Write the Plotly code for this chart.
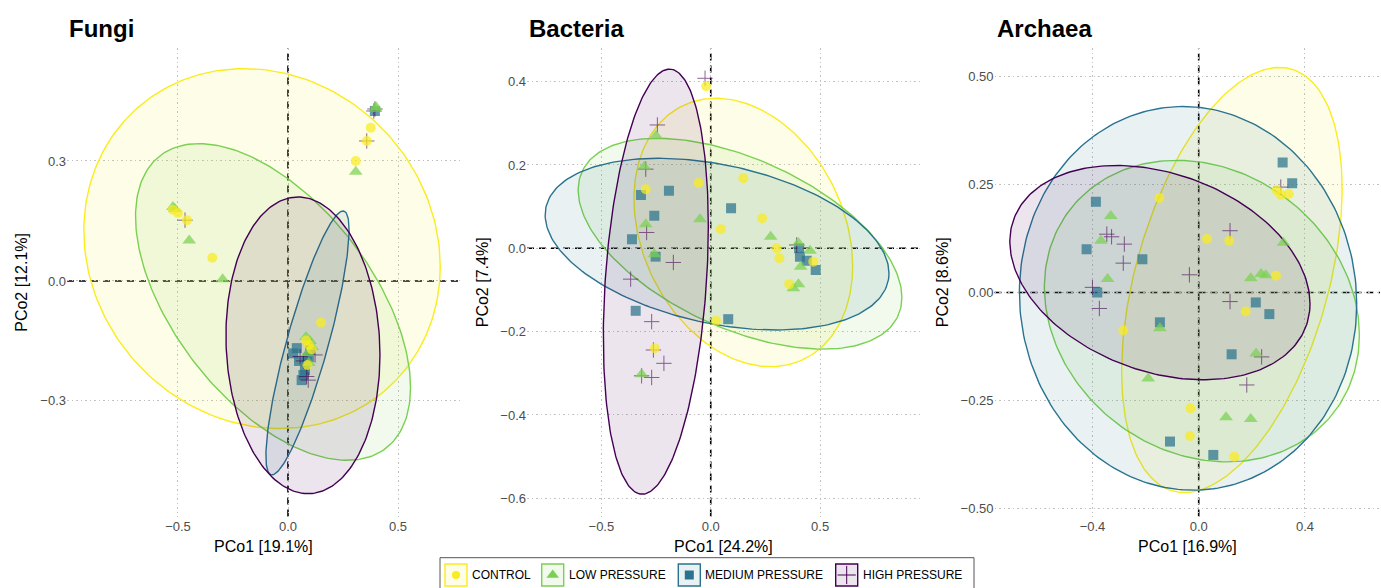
import numpy as np
import plotly.graph_objects as go

W, H = 1381, 588
FONT = "Liberation Sans, Arial, Helvetica, sans-serif"

GROUPS = ["CONTROL", "LOW PRESSURE", "MEDIUM PRESSURE", "HIGH PRESSURE"]
COLORS = ["#F9EC1F", "#7AD151", "#2A738E", "#440154"]
FILLS = ["rgba(249,236,31,0.10)", "rgba(122,209,81,0.10)", "rgba(42,115,142,0.10)", "rgba(68,1,84,0.10)"]
SYMBOLS = ["circle", "triangle-up", "square", "cross-thin"]
SIZES = [10, 12, 10, 11]

# ---------------- Fungi ----------------
F_CTRL_X = [0.376, 0.358, 0.308, -0.523, -0.500, -0.459, -0.344, 0.150, 0.082, 0.108, 0.088, 0.095]
F_CTRL_Y = [0.383, 0.350, 0.300, 0.178, 0.170, 0.152, 0.058, -0.104, -0.149, -0.171, -0.210, -0.160]
F_LOW_X = [0.400, 0.308, -0.523, -0.449, -0.297, 0.082, 0.110, 0.095, 0.100, -0.515, 0.398, 0.090]
F_LOW_Y = [0.435, 0.273, 0.185, 0.101, 0.004, -0.140, -0.165, -0.205, -0.150, 0.180, 0.430, -0.180]
F_MED_X = [0.395, 0.040, 0.024, 0.100, 0.085, 0.077, 0.062, 0.050, 0.070, 0.095]
F_MED_Y = [0.425, -0.168, -0.181, -0.173, -0.202, -0.223, -0.248, -0.200, -0.235, -0.190]
F_HIGH_X = [0.395, 0.358, -0.468, 0.055, 0.123, 0.092, 0.085, 0.070, 0.390]
F_HIGH_Y = [0.430, 0.350, 0.152, -0.189, -0.185, -0.248, -0.239, -0.200, 0.425]
# ellipse parameters (centre, spread, correlation) per group
F_ELL_CX = [-0.118, -0.068, 0.0886, 0.068]
F_ELL_CY = [0.081, -0.0525, -0.155, -0.161]
F_ELL_SX = [0.81, 0.625, 0.189, 0.35]
F_ELL_SY = [0.45, 0.396, 0.33, 0.371]
F_ELL_R = [-0.10, -0.54, 0.855, -0.065]

# ---------------- Bacteria ----------------
B_CTRL_X = [-0.021, -0.297, -0.055, 0.149, 0.235, 0.046, 0.302, 0.314, 0.469, 0.359, 0.024, -0.255]
B_CTRL_Y = [0.389, 0.142, 0.157, 0.168, 0.072, 0.046, 0.000, -0.024, -0.032, -0.086, -0.174, -0.240]
B_LOW_X = [-0.250, -0.304, -0.297, -0.049, -0.258, 0.274, 0.401, 0.454, 0.411, 0.401, 0.378, -0.316]
B_LOW_Y = [0.270, 0.196, 0.058, 0.070, -0.014, 0.028, 0.013, -0.006, -0.044, -0.086, -0.096, -0.302]
B_MED_X = [-0.319, -0.191, -0.258, -0.360, -0.252, 0.093, 0.404, 0.408, 0.439, 0.480, -0.343, 0.080]
B_MED_Y = [0.128, 0.138, 0.078, 0.022, -0.020, 0.096, 0.000, -0.020, -0.030, -0.052, -0.150, -0.170]
B_HIGH_X = [-0.026, -0.244, -0.297, -0.293, -0.171, -0.366, -0.270, -0.262, -0.214, -0.316, -0.270, 0.393]
B_HIGH_Y = [0.408, 0.296, 0.190, 0.038, -0.034, -0.074, -0.176, -0.244, -0.276, -0.306, -0.310, 0.008]
B_ELL_CX = [0.149, 0.134, 0.029, -0.251]
B_ELL_CY = [0.038, 0.011, 0.010, -0.080]
B_ELL_SX = [0.50, 0.74, 0.786, 0.24]
B_ELL_SY = [0.322, 0.253, 0.206, 0.51]
B_ELL_R = [-0.25, -0.51, -0.34, 0.26]

# ---------------- Archaea ----------------
A_CTRL_X = [-0.148, 0.294, 0.310, 0.339, 0.031, 0.115, 0.291, 0.177, -0.284, -0.031, -0.033, 0.134]
A_CTRL_Y = [0.219, 0.237, 0.226, 0.228, 0.124, 0.120, 0.039, -0.044, -0.088, -0.268, -0.332, -0.380]
A_LOW_X = [-0.331, -0.368, -0.343, 0.319, 0.196, 0.235, 0.253, -0.146, 0.216, -0.190, 0.103, 0.196]
A_LOW_Y = [0.177, 0.120, 0.031, 0.115, 0.033, 0.043, 0.040, -0.083, -0.141, -0.199, -0.289, -0.293]
A_MED_X = [0.316, 0.352, -0.387, -0.422, -0.212, -0.382, 0.215, 0.266, -0.146, 0.124, -0.108, 0.055]
A_MED_Y = [0.301, 0.253, 0.210, 0.100, 0.077, 0.000, -0.023, -0.050, -0.069, -0.143, -0.345, -0.376]
A_HIGH_X = [0.309, -0.346, -0.328, -0.280, -0.284, 0.118, -0.035, -0.400, -0.374, 0.118, 0.237, 0.181]
A_HIGH_Y = [0.244, 0.135, 0.129, 0.112, 0.068, 0.143, 0.041, 0.012, -0.037, -0.021, -0.149, -0.214]
A_ELL_CX = [0.125, 0.012, -0.040, -0.146]
A_ELL_CY = [0.029, -0.043, -0.0135, 0.046]
A_ELL_SX = [0.415, 0.593, 0.635, 0.565]
A_ELL_SY = [0.492, 0.349, 0.444, 0.248]
A_ELL_R = [0.43, -0.16, -0.03, -0.29]

PANELS = [
    dict(title="Fungi", xt="PCo1 [19.1%]", yt="PCo2 [12.1%]",
         pts=[(F_CTRL_X, F_CTRL_Y), (F_LOW_X, F_LOW_Y), (F_MED_X, F_MED_Y), (F_HIGH_X, F_HIGH_Y)],
         ell=(F_ELL_CX, F_ELL_CY, F_ELL_SX, F_ELL_SY, F_ELL_R),
         xdom=(67, 460), xr=(-1.0045, 0.7818), yr=(-0.589, 0.5825),
         xticks=[-0.5, 0.0, 0.5], xtt=["\u22120.5", "0.0", "0.5"],
         yticks=[-0.3, 0.0, 0.3], ytt=["\u22120.3", "0.0", "0.3"], ytx=21.5),
    dict(title="Bacteria", xt="PCo1 [24.2%]", yt="PCo2 [7.4%]",
         pts=[(B_CTRL_X, B_CTRL_Y), (B_LOW_X, B_LOW_Y), (B_MED_X, B_MED_Y), (B_HIGH_X, B_HIGH_Y)],
         ell=(B_ELL_CX, B_ELL_CY, B_ELL_SX, B_ELL_SY, B_ELL_R),
         xdom=(527, 920.7), xr=(-0.840, 0.960), yr=(-0.6436, 0.4807),
         xticks=[-0.5, 0.0, 0.5], xtt=["\u22120.5", "0.0", "0.5"],
         yticks=[-0.6, -0.4, -0.2, 0.0, 0.2, 0.4],
         ytt=["\u22120.6", "\u22120.4", "\u22120.2", "0.0", "0.2", "0.4"], ytx=482),
    dict(title="Archaea", xt="PCo1 [16.9%]", yt="PCo2 [8.6%]",
         pts=[(A_CTRL_X, A_CTRL_Y), (A_LOW_X, A_LOW_Y), (A_MED_X, A_MED_Y), (A_HIGH_X, A_HIGH_Y)],
         ell=(A_ELL_CX, A_ELL_CY, A_ELL_SX, A_ELL_SY, A_ELL_R),
         xdom=(994.5, 1380), xr=(-0.7688, 0.6826), yr=(-0.5185, 0.566),
         xticks=[-0.4, 0.0, 0.4], xtt=["\u22120.4", "0.0", "0.4"],
         yticks=[-0.5, -0.25, 0.0, 0.25, 0.5],
         ytt=["\u22120.50", "\u22120.25", "0.00", "0.25", "0.50"], ytx=942),
]

PLOT_TOP, PLOT_BOT = 48, 516.5


def ellipse(cx, cy, sx, sy, r, n=240):
    t = np.linspace(0, 2 * np.pi, n)
    x = cx + sx * np.cos(t)
    y = cy + sy * (r * np.cos(t) + np.sqrt(1 - r * r) * np.sin(t))
    return x, y


fig = go.Figure()
annotations = []
shapes = []

for i, p in enumerate(PANELS):
    k = "" if i == 0 else str(i + 1)
    xa, ya = "x" + k, "y" + k
    cx, cy, sx, sy, rr = p["ell"]
    for g in range(4):
        ex, ey = ellipse(cx[g], cy[g], sx[g], sy[g], rr[g])
        fig.add_trace(go.Scatter(x=ex, y=ey, mode="lines", fill="toself",
                                 fillcolor=FILLS[g], line=dict(color=COLORS[g], width=1.4),
                                 xaxis=xa, yaxis=ya, showlegend=False, hoverinfo="skip"))
    for g in [2, 3, 1, 0]:
        px_, py_ = p["pts"][g]
        mk = dict(symbol=SYMBOLS[g], size=SIZES[g], color=COLORS[g], opacity=0.72)
        if SYMBOLS[g] == "cross-thin":
            mk["line"] = dict(color=COLORS[g], width=1.0)
            mk["opacity"] = 0.6
        else:
            mk["line"] = dict(width=0)
        fig.add_trace(go.Scatter(x=px_, y=py_, mode="markers", marker=mk,
                                 xaxis=xa, yaxis=ya, showlegend=False, name=GROUPS[g]))
    axcommon = dict(showgrid=True, griddash="1.5px,3px", gridcolor="#c2c2c2", gridwidth=1.1,
                    zeroline=False, showline=False, ticks="", automargin=False,
                    tickfont=dict(family=FONT, size=13, color="#4d4d4d"))
    fig.layout["xaxis" + k] = dict(domain=[p["xdom"][0] / W, p["xdom"][1] / W], range=list(p["xr"]),
                                   tickvals=p["xticks"], ticktext=p["xtt"], anchor=ya, **axcommon)
    fig.layout["yaxis" + k] = dict(domain=[(H - PLOT_BOT) / H, (H - PLOT_TOP) / H], range=list(p["yr"]),
                                   tickvals=p["yticks"], ticktext=p["ytt"], anchor=xa, **axcommon)
    # dashed zero lines
    shapes.append(dict(type="line", xref=xa, yref=ya + " domain", x0=0, x1=0, y0=0, y1=1,
                       line=dict(color="black", width=1.6, dash="7px,5px"), layer="below"))
    shapes.append(dict(type="line", xref=xa + " domain", yref=ya, x0=0, x1=1, y0=0, y1=0,
                       line=dict(color="black", width=1.6, dash="7px,5px"), layer="below"))
    annotations.append(dict(text="<b>" + p["title"] + "</b>", xref=xa + " domain", yref="paper",
                            x=0, y=(H - 28) / H, xanchor="left", yanchor="middle", showarrow=False,
                            font=dict(family=FONT, size=24, color="black")))
    annotations.append(dict(text=p["xt"], xref=xa + " domain", yref="paper", x=0.5, y=(H - 546) / H,
                            xanchor="center", yanchor="middle", showarrow=False,
                            font=dict(family=FONT, size=16, color="black")))
    annotations.append(dict(text=p["yt"], xref="paper", yref=ya + " domain", x=p["ytx"] / W, y=0.5,
                            xanchor="center", yanchor="middle", textangle=-90, showarrow=False,
                            font=dict(family=FONT, size=16, color="black")))

# ---------------- legend (drawn on a hidden axis) ----------------
LEG_KEY_X = [456, 552.7, 689.3, 846.7]
LEG_LEFT, LEG_RIGHT, LEG_TOP = 440, 974, 557.7
LEG_Y = 575
fig.layout["xaxis4"] = dict(domain=[LEG_LEFT / W, LEG_RIGHT / W], range=[LEG_LEFT, LEG_RIGHT],
                            visible=False, fixedrange=True, automargin=False)
fig.layout["yaxis4"] = dict(domain=[0, (H - LEG_TOP) / H], range=[H, LEG_TOP],
                            visible=False, fixedrange=True, anchor="x4", automargin=False)
for g in range(4):
    fig.add_trace(go.Scatter(x=[LEG_KEY_X[g]], y=[LEG_Y], mode="markers", xaxis="x4", yaxis="y4",
                             marker=dict(symbol="square", size=22, color=FILLS[g],
                                         line=dict(color=COLORS[g], width=1.4)),
                             showlegend=False, hoverinfo="skip", cliponaxis=False))
    mk = dict(symbol=SYMBOLS[g], size=[8, 11, 9, 13][g], color=COLORS[g])
    if SYMBOLS[g] == "cross-thin":
        mk["line"] = dict(color=COLORS[g], width=1.0)
    else:
        mk["line"] = dict(width=0)
    fig.add_trace(go.Scatter(x=[LEG_KEY_X[g]], y=[LEG_Y], mode="markers", xaxis="x4", yaxis="y4",
                             marker=mk, showlegend=False, hoverinfo="skip", cliponaxis=False))
    annotations.append(dict(text=GROUPS[g], xref="x4", yref="y4", x=LEG_KEY_X[g] + 14, y=LEG_Y,
                            xanchor="left", yanchor="middle", showarrow=False,
                            font=dict(family=FONT, size=12, color="black")))
shapes.append(dict(type="rect", xref="paper", yref="paper", x0=LEG_LEFT / W, x1=LEG_RIGHT / W,
                   y0=-0.05, y1=(H - LEG_TOP) / H, line=dict(color="#555555", width=1)))

fig.update_layout(width=W, height=H, margin=dict(l=0, r=0, t=0, b=0, autoexpand=False),
                  paper_bgcolor="white", plot_bgcolor="rgba(0,0,0,0)",
                  annotations=annotations, shapes=shapes, showlegend=False,
                  font=dict(family=FONT))
fig.write_html("out.html", config={"displayModeBar": False},
               post_script="document.body.style.margin='0';document.body.style.padding='0';"
                           "document.body.style.overflow='hidden';")
